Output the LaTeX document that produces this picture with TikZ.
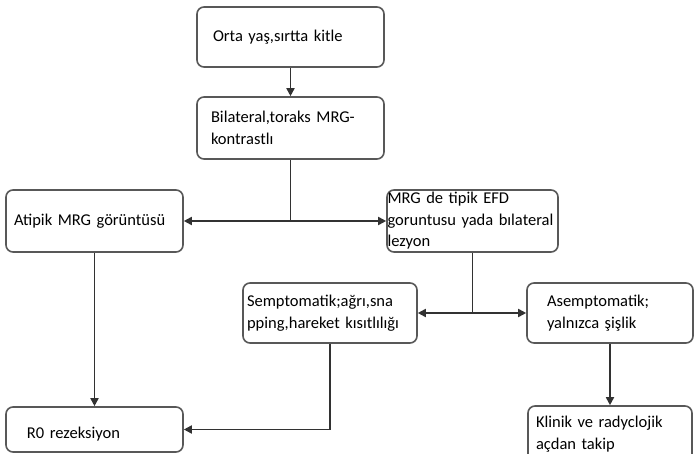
\documentclass[tikz,border=0pt]{standalone}
\usepackage{fontspec}
\setmainfont{Carlito}
\usetikzlibrary{arrows.meta}

\definecolor{boxgray}{RGB}{88,88,88}
\definecolor{linegray}{RGB}{50,50,50}

\hyphenpenalty=10000
\exhyphenpenalty=10000

\tikzset{
  box/.style={draw=boxgray, line width=1.6pt, rounded corners=7pt, align=left, inner ysep=0pt},
  lin/.style={draw=linegray, line width=1.7pt},
  arr/.style={lin, -{Triangle[length=8pt,width=8pt]}}
}

\begin{document}
\begin{tikzpicture}[x=1pt, y=-1pt]
\fontsize{16.5}{21.5}\selectfont
\useasboundingbox (0,0) rectangle (694,454);

\node[box, minimum width=187pt, minimum height=60pt, text width=155pt, inner xsep=16pt] (orta) at (290.5,37)
    {Orta yaş,sırtta kitle};
\node[box, minimum width=187pt, minimum height=62pt, text width=159pt, inner xsep=14pt] (bilat) at (290.5,128)
    {Bilateral,toraks MRG-\\
    kontrastlı};

\node[box, minimum width=177pt, minimum height=62pt, text width=161pt, inner xsep=8pt] (atipik) at (94.5,221)
    {Atipik MRG görüntüsü};
\node[box, minimum width=171pt, minimum height=62pt, text width=170pt, inner xsep=0.5pt] (mrg) at (472.5,221)
    {MRG de tipik EFD\\
    goruntusu yada bılateral\\
    lezyon};

\node[box, minimum width=174pt, minimum height=60pt, text width=166pt, inner xsep=4pt] (semp) at (330,313)
    {Semptomatik;ağrı,sna\\
    pping,hareket kısıtlılığı};
\node[box, minimum width=166pt, minimum height=60pt, text width=126pt, inner xsep=20pt] (asemp) at (610,313)
    {Asemptomatik;\\
    yalnızca şişlik};

\node[box, minimum width=177pt, minimum height=45pt, text width=135pt, inner xsep=21pt, text height=21pt] (rezek) at (94.5,429.5)
    {R0 rezeksiyon};
\node[box, minimum width=164pt, minimum height=56pt, text width=148pt, inner xsep=8pt] (takip) at (610,434)
    {Klinik ve radyclojik\\
    açdan takip};

% connectors
\draw[arr] (orta) -- (bilat);
\coordinate (j1) at (bilat.south |- atipik.east);
\draw[lin] (bilat.south) -- (j1);
\draw[arr] (j1) -- (atipik.east);
\draw[arr] (j1) -- (mrg.west);

\coordinate (j2) at (mrg.south |- semp.east);
\draw[lin] (mrg.south) -- (j2);
\draw[arr] (j2) -- (semp.east);
\draw[arr] (j2) -- (asemp.west);

\draw[arr] (atipik) -- (rezek);
\draw[arr] (semp.south) |- (rezek.east);
\draw[arr] (asemp) -- (takip);
\end{tikzpicture}
\end{document}
